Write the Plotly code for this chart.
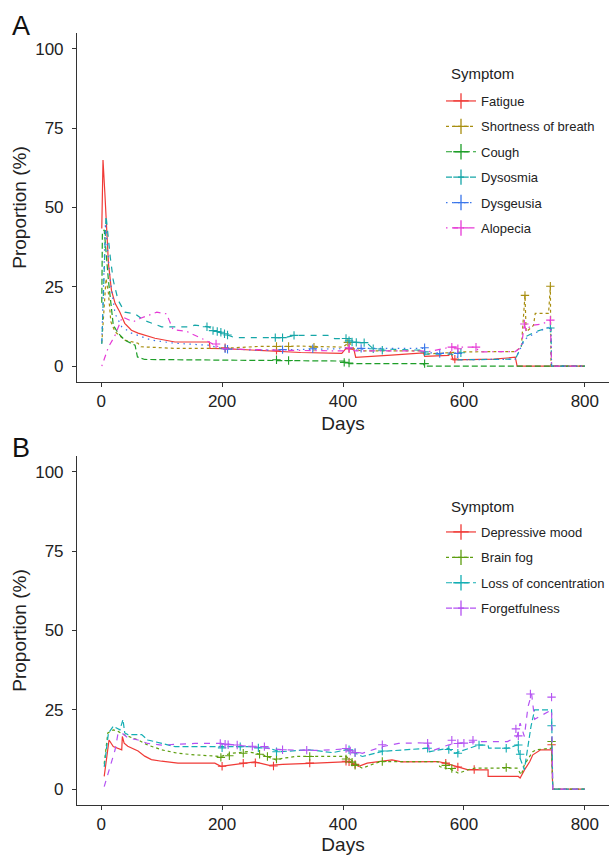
import plotly.graph_objects as go

# ---------------- Panel A data ----------------
a_names = ["Fatigue", "Shortness of breath", "Cough", "Dysosmia", "Dysgeusia", "Alopecia"]

fatigue_days = [1, 3, 6, 8, 12, 17, 23, 31, 39, 50, 61, 89, 122, 179, 180, 204, 250, 290, 330, 398, 405, 418, 421, 480, 533, 535, 575, 578, 582, 650, 685, 688, 800]
fatigue_vals = [43.4, 65, 54.8, 48.5, 32.4, 23.9, 19.8, 17, 13.5, 11.3, 10.4, 8.8, 7.6, 7.6, 5.6, 5.5, 5.0, 4.8, 4.3, 4.0, 5.6, 5.3, 2.8, 3.5, 4.2, 3.1, 3.4, 4.6, 2.0, 2.2, 2.8, 0, 0]

sob_days = [1, 8, 12, 16, 23, 39, 61, 66, 122, 200, 260, 330, 400, 410, 418, 430, 533, 535, 600, 685, 695, 701, 703, 715, 718, 740, 743, 744, 800]
sob_vals = [7.2, 27.6, 23, 14, 10.8, 8.2, 7.2, 6.1, 5.6, 5.6, 6.2, 6.3, 6.0, 7.5, 5.5, 4.8, 4.8, 3.8, 4.5, 4.6, 6.0, 22.3, 10.8, 12.8, 16.6, 16.6, 25.2, 0, 0]

cough_days = [1, 2, 5, 12, 20, 28, 39, 56, 60, 72, 200, 300, 405, 410, 533, 535, 800]
cough_vals = [20, 41.8, 43, 27, 12.9, 10.4, 8.2, 6.6, 2.9, 2.1, 1.9, 1.8, 1.6, 0.8, 0.8, 0, 0]

dysosmia_days = [1, 8, 15, 20, 28, 39, 56, 70, 100, 144, 155, 177, 193, 215, 221, 303, 320, 375, 386, 413, 420, 440, 450, 533, 535, 580, 590, 685, 690, 701, 718, 735, 744, 745, 800]
dysosmia_vals = [7, 47.5, 34.4, 27, 20.8, 17, 16.5, 14.5, 12.4, 12.4, 12.9, 12.4, 10.8, 9.2, 9.0, 9.0, 9.7, 9.7, 8.7, 8.7, 7.5, 7.2, 5.5, 5.0, 3.8, 3.8, 2.0, 2.2, 4.2, 9.2, 10.8, 11.9, 11.9, 0, 0]

dysgeusia_days = [1, 7, 15, 23, 34, 50, 83, 122, 177, 199, 260, 300, 400, 410, 420, 440, 533, 535, 588, 590, 685, 701, 718, 744, 745, 800]
dysgeusia_vals = [8, 45, 27, 16.5, 12.4, 10.4, 8.2, 7.2, 6.6, 5.6, 5.0, 5.2, 5.5, 6.0, 5.0, 5.6, 5.6, 4.2, 4.2, 2.0, 2.2, 8.5, 10.5, 12.5, 0, 0]

alopecia_days = [1, 12, 23, 31, 35, 53, 64, 92, 108, 119, 141, 172, 183, 200, 300, 400, 410, 420, 530, 540, 578, 620, 625, 685, 695, 700, 703, 710, 730, 743, 745, 800]
alopecia_vals = [0, 6, 9.7, 14, 15.5, 14, 15, 17, 16.5, 11.5, 11, 8.2, 7.2, 5.5, 5.0, 4.8, 5.8, 4.8, 4.8, 4.5, 6.0, 6.0, 4.5, 4.6, 6.0, 13.3, 11, 12.8, 13.3, 14.5, 0, 0]

# censor marks (+) panel A
fatigue_cen_d = [205, 290, 410, 585]
fatigue_cen_v = [5.8, 5.0, 5.5, 2.2]
sob_cen_d = [290, 310, 352, 408, 701, 743]
sob_cen_v = [6.2, 6.2, 6.0, 7.5, 22.3, 25.2]
cough_cen_d = [290, 310, 402, 410, 535]
cough_cen_v = [2.0, 1.8, 1.2, 1.0, 0.8]
dysosmia_cen_d = [175, 185, 192, 198, 204, 209, 288, 300, 319, 405, 410, 415, 422, 435, 450, 465, 535, 595, 743]
dysosmia_cen_v = [12.4, 11.2, 10.9, 10.7, 10.2, 9.8, 9.0, 9.0, 9.7, 8.7, 8.0, 7.6, 7.5, 7.4, 5.5, 5.0, 4.5, 4.2, 12.0]
dysgeusia_cen_d = [205, 209, 300, 350, 430, 535, 560, 590]
dysgeusia_cen_v = [5.5, 5.3, 5.2, 5.5, 5.6, 5.8, 4.0, 4.0]
alopecia_cen_d = [190, 410, 580, 590, 620, 700, 743]
alopecia_cen_v = [7.0, 5.8, 6.0, 5.5, 6.0, 13.3, 14.5]

# ---------------- Panel B data ----------------
b_names = ["Depressive mood", "Brain fog", "Loss of concentration", "Forgetfulness"]

dep_days = [5, 13, 20, 34, 35, 38, 44, 61, 72, 83, 100, 127, 188, 198, 210, 254, 278, 300, 355, 410, 415, 426, 440, 465, 481, 497, 557, 569, 580, 586, 607, 640, 640, 690, 693, 700, 709, 714, 727, 745, 747, 800]
dep_vals = [4, 15.5, 13.4, 12.4, 16.6, 14.5, 13.5, 12, 10.4, 9.3, 8.8, 8.2, 8.2, 7.2, 7.5, 8.6, 7.5, 7.8, 8.2, 8.7, 8.2, 7.2, 8.2, 8.9, 9.2, 8.6, 8.7, 8.2, 7.6, 7.1, 6.1, 6.1, 4.0, 4.0, 3.5, 6.0, 8.7, 10.8, 12.4, 12.4, 0, 0]

fog_days = [5, 11, 20, 28, 37, 61, 77, 100, 127, 155, 198, 215, 242, 268, 289, 300, 322, 405, 415, 426, 432, 454, 465, 520, 557, 560, 580, 591, 607, 618, 688, 695, 700, 714, 720, 745, 747, 800]
fog_vals = [8, 17.7, 18.7, 18.2, 17.2, 15.5, 13.9, 12.4, 11.3, 10.8, 10.3, 11.3, 11.8, 10.8, 9.2, 9.7, 10.3, 10.3, 9.0, 7.2, 6.6, 8.2, 8.7, 8.6, 8.7, 7.1, 6.1, 5.0, 6.1, 6.6, 6.6, 4.5, 7.7, 11.8, 12.4, 12.9, 0, 0]

conc_days = [5, 12, 20, 31, 36, 39, 44, 67, 77, 100, 122, 245, 278, 295, 344, 383, 405, 415, 432, 465, 509, 541, 543, 574, 585, 624, 640, 641, 672, 688, 693, 700, 711, 717, 745, 747, 800]
conc_vals = [7, 17.7, 19.8, 18.7, 21.9, 17.7, 17.2, 17.2, 15.5, 14.4, 13.4, 13.4, 12.9, 11.8, 12.4, 11.5, 12.4, 11.8, 10.3, 11.9, 12.4, 12.9, 11.8, 12.9, 11.3, 13.9, 13.9, 12.9, 12.9, 13.9, 9.7, 6.1, 19.8, 25, 25, 0, 0]

forget_days = [5, 23, 28, 34, 44, 61, 77, 100, 155, 200, 245, 300, 355, 400, 410, 432, 465, 492, 525, 541, 543, 574, 590, 624, 672, 688, 693, 700, 706, 712, 717, 735, 745, 747, 800]
forget_vals = [0.8, 12.4, 17.7, 17.7, 16.2, 15.5, 14.4, 13.9, 14.4, 14.4, 13.4, 12.4, 12.2, 12.6, 12.4, 11.3, 13.4, 14.4, 14.6, 14.5, 11.8, 13.9, 14.5, 15, 15, 16.6, 20.8, 16.6, 26, 30, 22, 24, 25, 0, 0]

dep_cen_d = [200, 235, 255, 285, 345, 405, 410, 420, 570, 590, 617, 745]
dep_cen_v = [7.2, 8.2, 8.3, 7.3, 8.2, 8.8, 8.6, 7.8, 8.2, 7.0, 6.2, 14.0]
fog_cen_d = [198, 212, 235, 262, 275, 290, 345, 405, 415, 420, 465, 570, 580, 670, 745]
fog_cen_v = [10.0, 10.5, 11.3, 11.0, 10.3, 9.5, 10.3, 9.5, 8.5, 7.5, 8.7, 7.5, 6.5, 6.8, 15.0]
conc_cen_d = [200, 230, 260, 290, 410, 420, 465, 540, 575, 590, 625, 670, 690, 693, 745]
conc_cen_v = [13.0, 13.4, 13.0, 11.8, 12.4, 11.5, 12.0, 12.9, 12.5, 11.3, 13.9, 12.9, 13.9, 11.0, 20.0]
forget_cen_d = [197, 205, 210, 225, 250, 270, 300, 340, 405, 412, 420, 465, 540, 580, 590, 600, 615, 686, 690, 710, 745]
forget_cen_v = [14.4, 14.2, 14.0, 13.9, 13.5, 13.4, 12.4, 12.3, 12.8, 12.0, 11.5, 14.0, 14.5, 15.4, 14.4, 14.5, 15.4, 19.0, 16.8, 30.0, 29.0]

x_ticks = [0, 200, 400, 600, 800]
y_ticks = [0, 25, 50, 75, 100]
legend_title = "Symptom"

# ---------------- styles ----------------
a_colors = ["#F03A36", "#A88E10", "#1E9E28", "#16A6A8", "#3A76EA", "#E63AD6"]
b_colors = ["#F03A36", "#5E9E10", "#14AEB4", "#B452F2"]
dashes = ["solid", "3px,3px", "6px,3px", "6px,6px", "1.5px,4.5px", "1.5px,4.5px,6px,4.5px"]

a_series = [
    (fatigue_days, fatigue_vals, fatigue_cen_d, fatigue_cen_v),
    (sob_days, sob_vals, sob_cen_d, sob_cen_v),
    (cough_days, cough_vals, cough_cen_d, cough_cen_v),
    (dysosmia_days, dysosmia_vals, dysosmia_cen_d, dysosmia_cen_v),
    (dysgeusia_days, dysgeusia_vals, dysgeusia_cen_d, dysgeusia_cen_v),
    (alopecia_days, alopecia_vals, alopecia_cen_d, alopecia_cen_v),
]
b_series = [
    (dep_days, dep_vals, dep_cen_d, dep_cen_v),
    (fog_days, fog_vals, fog_cen_d, fog_cen_v),
    (conc_days, conc_vals, conc_cen_d, conc_cen_v),
    (forget_days, forget_vals, forget_cen_d, forget_cen_v),
]

fig = go.Figure()
LW = 1.2


def add_panel(names, series, colors, xa, ya, legend_id, prefix):
    for i, (name, (d, v, cd, cv), c) in enumerate(zip(names, series, colors)):
        dash = dashes[i]
        grp = f"{prefix}{i}"
        fig.add_trace(go.Scatter(x=d, y=v, mode="lines", line=dict(color=c, width=LW, dash=dash),
                                 xaxis=xa, yaxis=ya, showlegend=False, legendgroup=grp, hoverinfo="skip"))
        fig.add_trace(go.Scatter(x=cd, y=cv, mode="markers",
                                 marker=dict(symbol="cross-thin", size=6, color=c, line=dict(width=1.1, color=c)),
                                 xaxis=xa, yaxis=ya, showlegend=False, legendgroup=grp, hoverinfo="skip"))
        # legend key entry
        fig.add_trace(go.Scatter(x=[None], y=[None], mode="lines+markers", name=name,
                                 line=dict(color=c, width=LW, dash=dash),
                                 marker=dict(symbol="cross-thin", size=11, color=c, line=dict(width=1.3, color=c)),
                                 xaxis=xa, yaxis=ya, legend=legend_id, legendgroup=grp, showlegend=True))


add_panel(a_names, a_series, a_colors, "x", "y", "legend", "a")
add_panel(b_names, b_series, b_colors, "x2", "y2", "legend2", "b")

FONT = "Liberation Sans, Arial, sans-serif"
axis_common = dict(showline=True, linecolor="#333333", linewidth=1.1, ticks="outside", ticklen=4,
                   tickwidth=1.1, tickcolor="#333333", showgrid=False, zeroline=False,
                   tickfont=dict(family=FONT, size=17, color="#222222"))

xdom = [77 / 609, 1.0]
leg_common = dict(xanchor="left", yanchor="top", font=dict(size=13, color="#222222"),
                  traceorder="grouped", tracegroupgap=5.5, bgcolor="rgba(0,0,0,0)", itemwidth=30)
fig.update_layout(
    width=609, height=855,
    margin=dict(l=0, r=0, t=0, b=0, autoexpand=False),
    paper_bgcolor="white", plot_bgcolor="white",
    font=dict(family=FONT, color="#222222"),
    xaxis=dict(domain=xdom, anchor="y", range=[-40, 840], tickvals=x_ticks,
               title=dict(text="Days", font=dict(size=19), standoff=6), **axis_common),
    yaxis=dict(domain=[1 - 382 / 855, 1 - 33 / 855], anchor="x", range=[-5, 105], tickvals=y_ticks,
               ticklabelstandoff=5,
               title=dict(text="Proportion (%)", font=dict(size=19), standoff=3), **axis_common),
    xaxis2=dict(domain=xdom, anchor="y2", range=[-40, 840], tickvals=x_ticks,
                title=dict(text="Days", font=dict(size=19), standoff=6), **axis_common),
    yaxis2=dict(domain=[1 - 805 / 855, 1 - 456 / 855], anchor="x2", range=[-5, 105], tickvals=y_ticks,
                ticklabelstandoff=5,
                title=dict(text="Proportion (%)", font=dict(size=19), standoff=3), **axis_common),
    legend=dict(x=441 / 609, y=1 - 86 / 855, **leg_common),
    legend2=dict(x=441 / 609, y=1 - 517 / 855, **leg_common),
    annotations=[
        dict(text="A", x=10 / 609, y=1 - 9 / 855, xref="paper", yref="paper", xanchor="left", yanchor="top",
             showarrow=False, font=dict(size=27, color="#111111")),
        dict(text="B", x=10 / 609, y=1 - 431 / 855, xref="paper", yref="paper", xanchor="left", yanchor="top",
             showarrow=False, font=dict(size=27, color="#111111")),
        dict(text=legend_title, x=449 / 609, y=1 - 73 / 855, xref="paper", yref="paper", xanchor="left",
             yanchor="middle", showarrow=False, font=dict(size=15, color="#222222")),
        dict(text=legend_title, x=449 / 609, y=1 - 506 / 855, xref="paper", yref="paper", xanchor="left",
             yanchor="middle", showarrow=False, font=dict(size=15, color="#222222")),
    ],
)

fig.write_html("out.html", config={"displayModeBar": False},
               post_script="document.body.style.margin='0';document.body.style.overflow='hidden';")
